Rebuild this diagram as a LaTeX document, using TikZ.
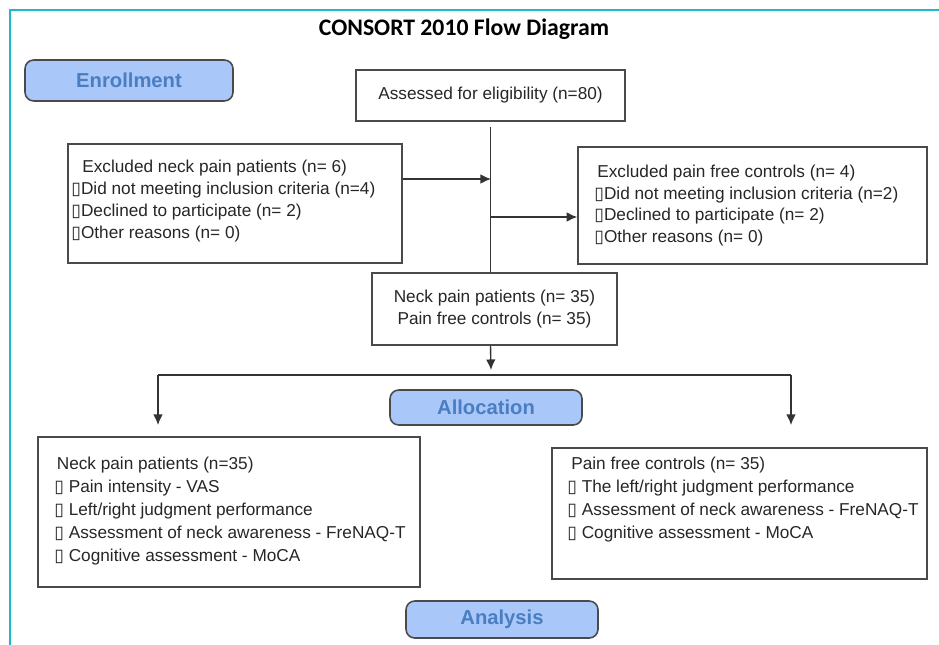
\documentclass[tikz,border=0pt]{standalone}
\usepackage{fontspec}
\setmainfont{Liberation Sans}
\newfontfamily\titlefont{Carlito}
\newfontfamily\symfont{DejaVu Sans}
\usetikzlibrary{arrows.meta}

\definecolor{framecyan}{HTML}{22B8CC}
\definecolor{boxgrey}{HTML}{4A4A4A}
\definecolor{phasefill}{HTML}{A9C7F8}
\definecolor{phasetext}{HTML}{4A7EC0}
\newcommand{\sq}{{\symfont\fontsize{10}{10}\selectfont ▯}}

\begin{document}
\begin{tikzpicture}[
    x=0.02cm, y=-0.02cm,
    flow box/.style={draw=boxgrey, line width=0.9pt, inner sep=0pt, text=black!85,
      font=\fontsize{9.8}{13}\selectfont},
    phase box/.style={draw=boxgrey, line width=0.9pt, rounded corners=5pt, fill=phasefill,
      text=phasetext, font=\fontsize{11.5}{13}\selectfont\bfseries},
    txt/.style={align=left, anchor=north west, inner sep=0pt, text=black!85},
    link/.style={draw=black!80, line width=0.8pt},
    >={Latex[length=6pt,width=5.5pt]},
    ]
  \def\U{0.02cm}
  \useasboundingbox (0,0) rectangle (939,645);
  \draw[framecyan, line width=1.2pt] (10,645) -- (10,10) -- (939,10);

  \node[font=\titlefont\bfseries\fontsize{13.5}{16}\selectfont] (title) at (464,29) {CONSORT 2010 Flow Diagram};

  \node[phase box, minimum width=208*\U, minimum height=41*\U] (enroll) at (129,80.5) {Enrollment};
  \node[phase box, minimum width=192*\U, minimum height=35*\U] (alloc) at (486,407.5) {Allocation};
  \node[phase box, minimum width=192*\U, minimum height=37*\U] (analysis) at (502,619.5) {Analysis};

  \node[flow box, minimum width=269*\U, minimum height=51*\U] (assess) at (490.5,95.5) {Assessed for eligibility (n=80)};
  \node[flow box, align=center, minimum width=245*\U, minimum height=72*\U] (npc) at (494.5,309)
    {Neck pain patients (n= 35)\\Pain free controls (n= 35)};

  \node[flow box, minimum width=334*\U, minimum height=119*\U] (exclL) at (235,203.5) {};
  \node[txt, font=\fontsize{9.8}{12.4}\selectfont] (exclLtxt) at (71,160)
    {\hspace{0.22cm}Excluded neck pain patients (n= 6)\\
     \sq Did not meeting inclusion criteria (n=4)\\
     \sq Declined to participate (n= 2)\\
     \sq Other reasons (n= 0)};

  \node[flow box, minimum width=349*\U, minimum height=117*\U] (exclR) at (752.5,205.5) {};
  \node[txt, font=\fontsize{9.8}{12.2}\selectfont] (exclRtxt) at (594,165)
    {\hspace{0.06cm}Excluded pain free controls (n= 4)\\
     \sq Did not meeting inclusion criteria (n=2)\\
     \sq Declined to participate (n= 2)\\
     \sq Other reasons (n= 0)};

  \node[flow box, minimum width=382*\U, minimum height=150*\U] (grpNP) at (229,512) {};
  \node[txt, font=\fontsize{9.8}{13}\selectfont] (grpNPtxt) at (54,457)
    {\hspace{0.05cm}Neck pain patients (n=35)\\
     \sq{} Pain intensity - VAS\\
     \sq{} Left/right judgment performance\\
     \sq{} Assessment of neck awareness - FreNAQ-T\\
     \sq{} Cognitive assessment - MoCA};

  \node[flow box, minimum width=375*\U, minimum height=131*\U] (grpPF) at (739.5,513.5) {};
  \node[txt, font=\fontsize{9.8}{13}\selectfont] (grpPFtxt) at (567,457)
    {\hspace{0.08cm}Pain free controls (n= 35)\\
     \sq{} The left/right judgment performance\\
     \sq{} Assessment of neck awareness - FreNAQ-T\\
     \sq{} Cognitive assessment - MoCA};

  \coordinate (jL) at (491,179);
  \coordinate (jR) at (491,217);
  \coordinate (splitTip) at (491,370);
  \coordinate (brL) at (158,375);
  \coordinate (brR) at (791,375);
  \coordinate (tipL) at (158,425);
  \coordinate (tipR) at (791,425);

  \draw[link, shorten <=3pt] (assess.south) -- (assess.south |- npc.north);
  \draw[link, ->] (exclL.east |- jL) -- (jL);
  \draw[link, ->] (jR) -- (jR -| exclR.west);
  \draw[link, ->] (assess.south |- npc.south) -- (splitTip);
  \draw[link] (brL) -- (brR);
  \draw[link, ->] (brL) -- (tipL);
  \draw[link, ->] (brR) -- (tipR);
\end{tikzpicture}
\end{document}
